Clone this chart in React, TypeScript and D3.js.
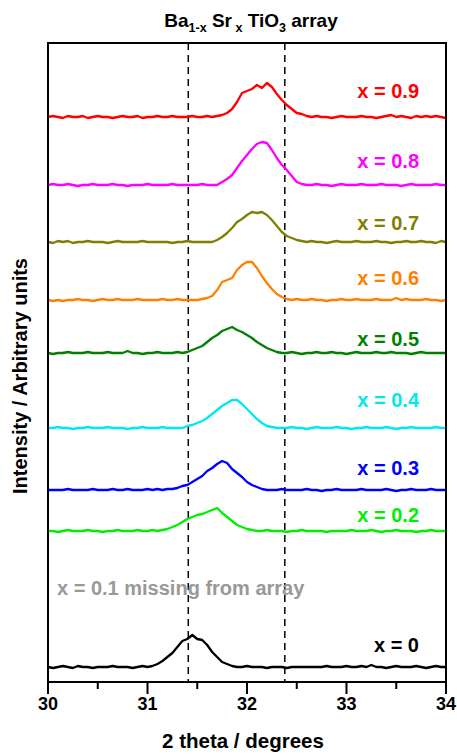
import React from "react";
import * as d3 from "d3";

// 2theta grid: 30.00 .. 34.00 step 0.05 (81 points)
const THETA: number[] = d3.range(81).map((i) => (3000 + i * 5) / 100);

const X_TICKS = [30, 31, 32, 33, 34];
const X_MINOR = [30.5, 31.5, 32.5, 33.5];
const DASHED_LINES = [31.41, 32.38];

const LABELS = ["x = 0.9", "x = 0.8", "x = 0.7", "x = 0.6", "x = 0.5", "x = 0.4", "x = 0.3", "x = 0.2", "x = 0"];
const COLORS = ["#ff0000", "#ff00ff", "#808000", "#ff8000", "#008000", "#00e8f0", "#0000ff", "#00ee00", "#000000"];
const OFFSETS = [565, 497, 440, 382, 329, 254, 192, 151, 15];
const LABEL_Y = [584, 514, 452, 397, 336, 275, 207, 160, 30];
const MISSING_LABEL = "x = 0.1 missing from array";
const MISSING_Y = 87;

const I_09 = [0,1,0,-1,1,0,0,1,-1,0,1,0,0,-1,0,1,0,0,1,-1,0,0,1,0,0,1,0,0, 0,1,0,0,1,0,1, 2,4,8,15,24,26,28,32,29,34,30,23,17,12,8,4,3,1, 0,1,0,0,-1,0,1,0,0,0,1,0,0,-1,0,1,2,0,1,0,-1,1,0,1,0,1,0,-1];
const I_08 = [0,1,0,0,1,0,-1,0,0,1,0,0,0,1,0,0,-1,0,0,0,1,0,0,0,0,1,0,0,0,0,0,1,0,0, 0,3,6,10,17,24,30,36,41,43,42,35,27,20,15,9,3,1, 0,0,1,0,0,-1,0,1,0,0,0,1,0,0,0,1,0,0,0,-1,0,1,0,0,0,0,1,0,0];
const I_07 = [0,-1,1,0,1,-1,0,0,1,0,0,0,-1,0,1,0,0,0,0,1,0,0,0,0,0,-1,0,0,1,0,0,0,0, 0,2,5,9,14,20,23,27,30,29,30,27,22,16,10,6,4,2,1,0, 1,0,0,-1,0,1,0,0,0,1,0,0,0,1,0,0,-1,0,0,1,0,0,1,0,0,-1,1,0];
const I_06 = [0,-1,0,-1,0,0,1,0,0,-1,0,1,0,0,1,0,0,0,1,0,0,0,0,1,0,0,1,0,0,0,0, 1,2,4,10,18,20,22,30,35,38,38,32,24,17,11,6,3,1, 0,1,0,0,1,0,0,-1,0,0,1,0,0,1,0,0,0,1,0,0,0,2,0,1,0,0,0,1,0,0,-1,0];
const I_05 = [0,-1,0,0,1,0,0,0,1,0,0,0,1,0,0,0,2,0,0,-1,0,0,1,0,0,0,1,0, 1,3,5,7,11,15,18,22,24,26,23,21,18,15,11,8,5,3,1, 0,0,1,0,-1,0,0,1,0,0,1,0,0,-1,0,1,0,0,0,1,0,0,1,0,0,0,-1,0,1,0,0,0,0,0];
const I_04 = [0,0,1,0,0,-1,0,0,1,0,0,0,1,0,0,0,-1,0,0,1,0,0,0,1,0,0,0, 0,2,3,5,7,10,14,18,22,25,28,28,24,19,14,9,5,2,1, 0,0,0,1,0,0,-1,0,1,0,0,0,1,0,0,-1,0,0,1,0,0,0,1,0,-1,0,0,1,0,0,0,0,1,0,0];
const I_03 = [0,0,0,0,1,0,0,0,0,1,0,0,0,1,0,0,1,0,0,0,1,0,1,0,1, 1,2,4,5,8,11,14,19,22,26,29,27,21,17,13,8,5,3,1, 0,0,0,1,0,0,0,0,1,0,0,-1,0,0,1,0,0,0,0,1,0,0,0,0,1,0,-1,0,0,1,0,0,0,1,0,0,0];
const I_02 = [0,0,-1,0,1,0,0,0,1,0,0,-1,0,0,1,0,0,0,1,0,0,1,0, 1,2,4,6,9,12,14,16,17,19,21,23,18,14,10,6,4,2,1, 0,0,1,0,0,0,-1,0,0,1,0,0,0,0,-1,0,0,0,0,1,0,0,0,1,0,-1,0,0,1,0,0,0,-1,0,0,1,0,0,0];
const I_00 = [0,-1,0,1,0,-1,1,0,0,-1,0,0,0,1,0,0,0,-1,0,1,0, 1,3,6,10,14,20,26,28,32,28,27,22,15,10,5,3,1, 0,0,1,0,0,0,-1,0,0,0,-1,0,0,0,0,0,0,0,1,0,0,0,1,0,0,1,0,2,0,0,-1,0,1,0,0,0,1,0,-1,0,1,0,0];

const SERIES = [I_09, I_08, I_07, I_06, I_05, I_04, I_03, I_02, I_00];

const FONT = "'Liberation Sans', Arial, Helvetica, sans-serif";

export default function App() {
  const W = 457, H = 755;
  const left = 48, right = 446, top = 43, bottom = 682;
  const x = d3.scaleLinear().domain([30, 34]).range([left, right]);
  const y = d3.scaleLinear().domain([0, 639]).range([bottom, top]);

  return (
    <svg width={W} height={H} style={{ position: "absolute", left: 0, top: 0, background: "#fff" }} fontFamily={FONT} fontWeight="bold">
      <defs>
        <clipPath id="plotclip">
          <rect x={left} y={top} width={right - left} height={bottom - top} />
        </clipPath>
      </defs>
      {/* title */}
      <text x={251} y={27} textAnchor="middle" fontSize={19}>
        Ba<tspan fontSize={12.5} dy={5}>1-x</tspan>
        <tspan dy={-5}> Sr</tspan>
        <tspan fontSize={12.5} dy={5}> x</tspan>
        <tspan dy={-5}> TiO</tspan>
        <tspan fontSize={12.5} dy={5}>3</tspan>
        <tspan dy={-5}> array</tspan>
      </text>

      {/* dashed lines */}
      {DASHED_LINES.map((d) => (
        <line key={d} x1={x(d)} x2={x(d)} y1={top} y2={bottom} stroke="#000" strokeWidth={1.5} strokeDasharray="7,5" />
      ))}

      {/* curves */}
      <g clipPath="url(#plotclip)">
        {SERIES.map((s, k) => {
          const line = d3.line<number>().x((_, i) => x(THETA[i])).y((v) => y(OFFSETS[k] + v));
          return <path key={k} d={line(s) || ""} fill="none" stroke={COLORS[k]} strokeWidth={2.3} strokeLinejoin="round" />;
        })}
      </g>

      {/* labels */}
      {LABELS.map((l, k) => (
        <text key={l} x={419} y={y(LABEL_Y[k])} textAnchor="end" fontSize={20} fill={COLORS[k]}>{l}</text>
      ))}
      <text x={57} y={y(MISSING_Y)} fontSize={20} fill="#999999">{MISSING_LABEL}</text>

      {/* frame */}
      <rect x={left} y={top} width={right - left} height={bottom - top} fill="none" stroke="#000" strokeWidth={2} />

      {/* x ticks */}
      {X_TICKS.map((t) => (
        <g key={t}>
          <line x1={x(t)} x2={x(t)} y1={bottom} y2={bottom + 12} stroke="#000" strokeWidth={2} />
          <text x={x(t)} y={710} textAnchor="middle" fontSize={18}>{t}</text>
        </g>
      ))}
      {X_MINOR.map((t) => (
        <line key={t} x1={x(t)} x2={x(t)} y1={bottom} y2={bottom + 7} stroke="#000" strokeWidth={2} />
      ))}

      <text x={243} y={748} textAnchor="middle" fontSize={20.5}>2 theta / degrees</text>
      <text transform="rotate(-90)" x={-376} y={27} textAnchor="middle" fontSize={20}>Intensity / Arbitrary units</text>
    </svg>
  );
}
